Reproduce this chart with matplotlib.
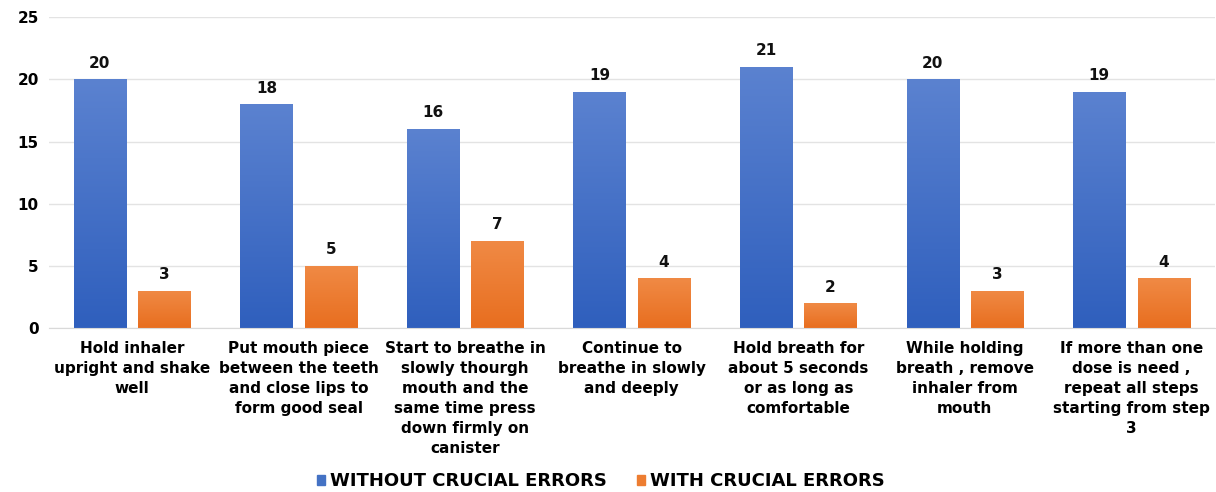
import matplotlib
matplotlib.use("Agg")
import matplotlib.pyplot as plt
import numpy as np
from matplotlib.colors import LinearSegmentedColormap
from matplotlib.patches import Patch

plt.rcParams["font.family"] = ["DejaVu Sans"]
plt.rcParams["font.weight"] = "bold"

categories = [
    "Hold inhaler\nupright and shake\nwell",
    "Put mouth piece\nbetween the teeth\nand close lips to\nform good seal",
    "Start to breathe in\nslowly thourgh\nmouth and the\nsame time press\ndown firmly on\ncanister",
    "Continue to\nbreathe in slowly\nand deeply",
    "Hold breath for\nabout 5 seconds\nor as long as\ncomfortable",
    "While holding\nbreath , remove\ninhaler from\nmouth",
    "If more than one\ndose is need ,\nrepeat all steps\nstarting from step\n3",
]
without_errors = [20, 18, 16, 19, 21, 20, 19]
with_errors = [3, 5, 7, 4, 2, 3, 4]
series_names = ["WITHOUT CRUCIAL ERRORS", "WITH CRUCIAL ERRORS"]

BLUE_TOP, BLUE_BOT = "#5b82d0", "#2f5fbd"
ORANGE_TOP, ORANGE_BOT = "#f08a45", "#e86e1f"
FS = 10.5

fig = plt.figure(figsize=(12.16, 4.92), dpi=100)
ax = fig.add_axes([0.040, 0.333, 0.959, 0.632])

x = np.arange(len(categories))
w = 0.313
off = 0.193


def gradient_bars(xs, vals, top, bot):
    bars = ax.bar(xs, vals, width=w, color=bot, zorder=2)
    cmap = LinearSegmentedColormap.from_list("g", [bot, top])
    grad = np.linspace(0, 1, 256).reshape(-1, 1)
    for b in bars:
        x0, y0 = b.get_x(), b.get_y()
        im = ax.imshow(grad, cmap=cmap, aspect="auto", origin="lower",
                       extent=[x0, x0 + b.get_width(), y0, y0 + b.get_height()],
                       zorder=2.5)
        im.set_clip_path(b)
    return bars


gradient_bars(x - off, without_errors, BLUE_TOP, BLUE_BOT)
gradient_bars(x + off, with_errors, ORANGE_TOP, ORANGE_BOT)

for xi, v in zip(x - off, without_errors):
    ax.text(xi, v + 0.7, str(v), ha="center", va="bottom", fontsize=FS + 0.5,
            fontweight="bold", color="#111")
for xi, v in zip(x + off, with_errors):
    ax.text(xi, v + 0.7, str(v), ha="center", va="bottom", fontsize=FS + 0.5,
            fontweight="bold", color="#111")

ax.set_xlim(-0.5, len(categories) - 0.5)
ax.set_ylim(0, 25)
ax.set_yticks([0, 5, 10, 15, 20, 25])
ax.set_xticks(x)
ax.set_xticklabels(categories, fontsize=FS, fontweight="bold", linespacing=1.42)
ax.tick_params(axis="both", length=0, labelsize=FS + 0.5)
ax.tick_params(axis="y", pad=7)
ax.tick_params(axis="x", pad=9)
for lab in ax.get_yticklabels():
    lab.set_fontweight("bold")
ax.grid(axis="y", color="#e3e3e3", linewidth=1.0, zorder=0)
ax.set_axisbelow(True)
for s in ["top", "right", "left"]:
    ax.spines[s].set_visible(False)
ax.spines["bottom"].set_color("#d9d9d9")

handles = [Patch(color="#4472c4"), Patch(color="#ed7d31")]
fig.legend(handles, series_names, loc="center", bbox_to_anchor=(0.494, 0.022),
           ncol=2, frameon=False, handlelength=0.45,
           handleheight=0.45, columnspacing=1.7, handletextpad=0.25,
           prop={"weight": "bold", "size": 13})

fig.savefig("out.png", dpi=100)
